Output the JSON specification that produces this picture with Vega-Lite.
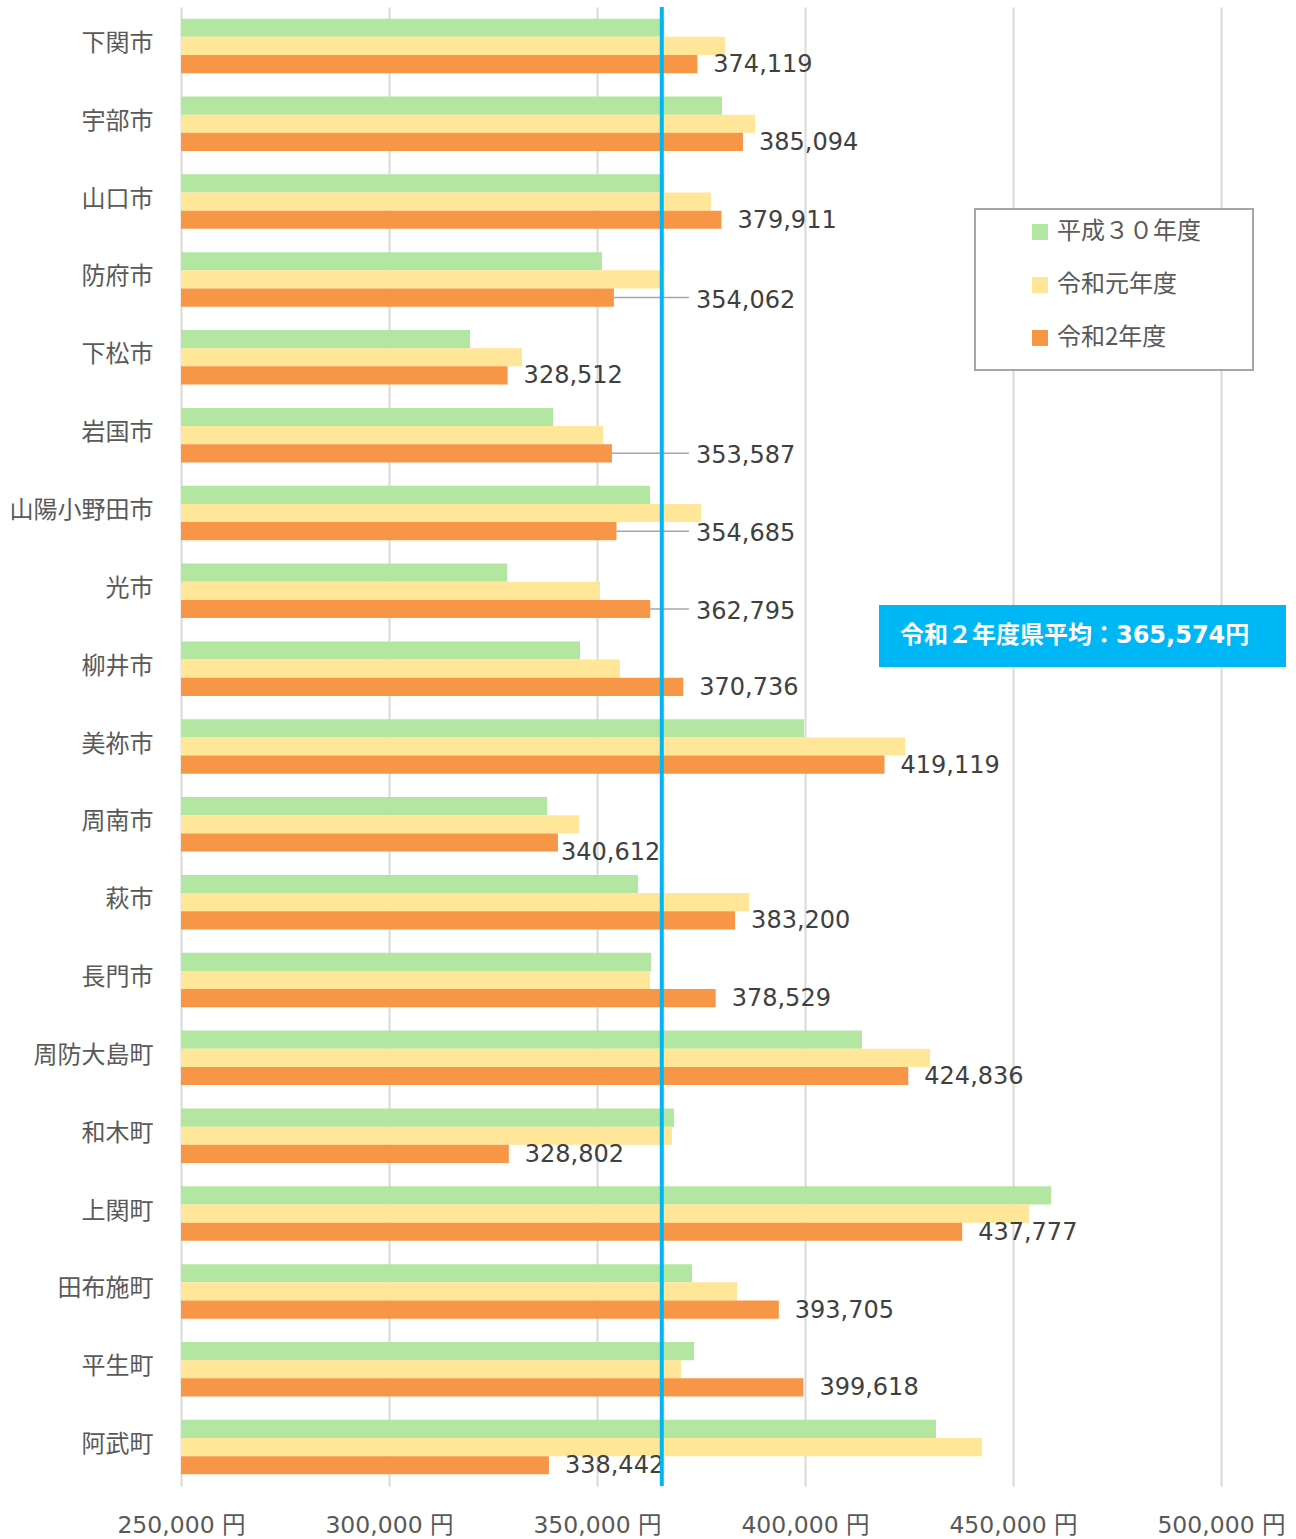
{
  "$schema": "https://vega.github.io/schema/vega-lite/v6.json",
  "width": 1040,
  "height": 1479,
  "padding": {"left": 9, "top": 5, "right": 5, "bottom": 4},
  "background": "white",
  "config": {
    "view": {"stroke": null},
    "font": "DejaVu Sans, Noto Sans CJK JP",
    "text": {"font": "DejaVu Sans, Noto Sans CJK JP"}
  },
  "datasets": {
    "costs": [
      {"city": "下関市", "year": "平成３０年度", "value": 366100},
      {"city": "下関市", "year": "令和元年度", "value": 380770},
      {"city": "下関市", "year": "令和2年度", "value": 374119},
      {"city": "宇部市", "year": "平成３０年度", "value": 380050},
      {"city": "宇部市", "year": "令和元年度", "value": 387980},
      {"city": "宇部市", "year": "令和2年度", "value": 385094},
      {"city": "山口市", "year": "平成３０年度", "value": 366100},
      {"city": "山口市", "year": "令和元年度", "value": 377400},
      {"city": "山口市", "year": "令和2年度", "value": 379911},
      {"city": "防府市", "year": "平成３０年度", "value": 351200},
      {"city": "防府市", "year": "令和元年度", "value": 365620},
      {"city": "防府市", "year": "令和2年度", "value": 354062},
      {"city": "下松市", "year": "平成３０年度", "value": 319470},
      {"city": "下松市", "year": "令和元年度", "value": 331970},
      {"city": "下松市", "year": "令和2年度", "value": 328512},
      {"city": "岩国市", "year": "平成３０年度", "value": 339420},
      {"city": "岩国市", "year": "令和元年度", "value": 351440},
      {"city": "岩国市", "year": "令和2年度", "value": 353587},
      {"city": "山陽小野田市", "year": "平成３０年度", "value": 362740},
      {"city": "山陽小野田市", "year": "令和元年度", "value": 375000},
      {"city": "山陽小野田市", "year": "令和2年度", "value": 354685},
      {"city": "光市", "year": "平成３０年度", "value": 328360},
      {"city": "光市", "year": "令和元年度", "value": 350720},
      {"city": "光市", "year": "令和2年度", "value": 362795},
      {"city": "柳井市", "year": "平成３０年度", "value": 345910},
      {"city": "柳井市", "year": "令和元年度", "value": 355530},
      {"city": "柳井市", "year": "令和2年度", "value": 370736},
      {"city": "美祢市", "year": "平成３０年度", "value": 399760},
      {"city": "美祢市", "year": "令和元年度", "value": 424040},
      {"city": "美祢市", "year": "令和2年度", "value": 419119},
      {"city": "周南市", "year": "平成３０年度", "value": 337980},
      {"city": "周南市", "year": "令和元年度", "value": 345670},
      {"city": "周南市", "year": "令和2年度", "value": 340612},
      {"city": "萩市", "year": "平成３０年度", "value": 359860},
      {"city": "萩市", "year": "令和元年度", "value": 386540},
      {"city": "萩市", "year": "令和2年度", "value": 383200},
      {"city": "長門市", "year": "平成３０年度", "value": 362980},
      {"city": "長門市", "year": "令和元年度", "value": 362740},
      {"city": "長門市", "year": "令和2年度", "value": 378529},
      {"city": "周防大島町", "year": "平成３０年度", "value": 413700},
      {"city": "周防大島町", "year": "令和元年度", "value": 430050},
      {"city": "周防大島町", "year": "令和2年度", "value": 424836},
      {"city": "和木町", "year": "平成３０年度", "value": 368510},
      {"city": "和木町", "year": "令和元年度", "value": 368030},
      {"city": "和木町", "year": "令和2年度", "value": 328802},
      {"city": "上関町", "year": "平成３０年度", "value": 459140},
      {"city": "上関町", "year": "令和元年度", "value": 453850},
      {"city": "上関町", "year": "令和2年度", "value": 437777},
      {"city": "田布施町", "year": "平成３０年度", "value": 372840},
      {"city": "田布施町", "year": "令和元年度", "value": 383650},
      {"city": "田布施町", "year": "令和2年度", "value": 393705},
      {"city": "平生町", "year": "平成３０年度", "value": 373320},
      {"city": "平生町", "year": "令和元年度", "value": 370190},
      {"city": "平生町", "year": "令和2年度", "value": 399618},
      {"city": "阿武町", "year": "平成３０年度", "value": 431490},
      {"city": "阿武町", "year": "令和元年度", "value": 442550},
      {"city": "阿武町", "year": "令和2年度", "value": 338442}
    ]
  },
  "resolve": {"scale": {"y": "independent"}},
  "layer": [
    {
      "data": {"name": "costs"},
      "encoding": {
        "y": {
          "field": "city",
          "type": "nominal",
          "sort": ["下関市", "宇部市", "山口市", "防府市", "下松市", "岩国市", "山陽小野田市", "光市", "柳井市", "美祢市", "周南市", "萩市", "長門市", "周防大島町", "和木町", "上関町", "田布施町", "平生町", "阿武町"],
          "scale": {"paddingInner": 0.3, "paddingOuter": 0.15},
          "axis": {
            "title": null,
            "labelFont": "Noto Sans CJK JP",
            "labelFontSize": 24,
            "labelColor": "#595959",
            "labelPadding": 28,
            "labelOffset": -2,
            "ticks": false,
            "domain": false,
            "grid": false
          }
        },
        "yOffset": {
          "field": "year",
          "type": "nominal",
          "sort": ["平成３０年度", "令和元年度", "令和2年度"],
          "scale": {"paddingInner": 0, "paddingOuter": 0}
        }
      },
      "layer": [
        {
          "mark": {"type": "bar"},
          "encoding": {
            "x": {
              "field": "value",
              "type": "quantitative",
              "stack": null,
              "scale": {"domain": [250000, 500000], "nice": false, "zero": false},
              "axis": {
                "title": null,
                "values": [250000, 300000, 350000, 400000, 450000, 500000],
                "labelExpr": "format(datum.value, ',') + ' 円'",
                "labelFontSize": 23.5,
                "labelColor": "#595959",
                "labelPadding": 27,
                "labelOverlap": false,
                "labelFlush": false,
                "labelBound": false,
                "grid": true,
                "gridColor": "#d9d9d9",
                "gridWidth": 2,
                "domain": false,
                "ticks": false
              }
            },
            "color": {
              "field": "year",
              "type": "nominal",
              "sort": ["平成３０年度", "令和元年度", "令和2年度"],
              "scale": {"domain": ["平成３０年度", "令和元年度", "令和2年度"], "range": ["#B3E6A0", "#FFE699", "#F79646"]},
              "legend": {
                "title": null,
                "orient": "none",
                "legendX": 847,
                "legendY": 213,
                "symbolType": "square",
                "symbolSize": 256,
                "symbolStrokeWidth": 0,
                "labelFont": "Noto Sans CJK JP",
                "labelFontSize": 24,
                "labelColor": "#595959",
                "labelOffset": 5,
                "rowPadding": 29,
                "padding": 0
              }
            }
          }
        },
        {
          "transform": [
            {"filter": "datum.year === '令和2年度' && indexof(['防府市','岩国市','山陽小野田市','光市','周南市'], datum.city) < 0"}
          ],
          "mark": {"type": "text", "align": "left", "baseline": "middle", "dx": 16, "dy": 1, "fontSize": 24, "color": "#404040"},
          "encoding": {
            "x": {"field": "value", "type": "quantitative", "stack": null, "scale": {"domain": [250000, 500000], "nice": false, "zero": false}},
            "text": {"field": "value", "type": "quantitative", "format": ","}
          }
        },
        {
          "transform": [
            {"filter": "datum.year === '令和2年度' && datum.city === '周南市'"}
          ],
          "mark": {"type": "text", "align": "left", "baseline": "middle", "dx": 3, "dy": 10, "fontSize": 24, "color": "#404040"},
          "encoding": {
            "x": {"field": "value", "type": "quantitative", "stack": null, "scale": {"domain": [250000, 500000], "nice": false, "zero": false}},
            "text": {"field": "value", "type": "quantitative", "format": ","}
          }
        },
        {
          "transform": [
            {"filter": "datum.year === '令和2年度' && indexof(['防府市','岩国市','山陽小野田市','光市'], datum.city) >= 0"}
          ],
          "mark": {"type": "rule", "color": "#a6a6a6", "strokeWidth": 1.5},
          "encoding": {
            "x": {"field": "value", "type": "quantitative", "stack": null, "scale": {"domain": [250000, 500000], "nice": false, "zero": false}},
            "x2": {"datum": 372100}
          }
        },
        {
          "transform": [
            {"filter": "datum.year === '令和2年度' && indexof(['防府市','岩国市','山陽小野田市','光市'], datum.city) >= 0"}
          ],
          "mark": {"type": "text", "align": "left", "baseline": "middle", "dy": 3, "fontSize": 24, "color": "#404040"},
          "encoding": {
            "x": {"datum": 373800, "type": "quantitative", "scale": {"domain": [250000, 500000], "nice": false, "zero": false}},
            "text": {"field": "value", "type": "quantitative", "format": ","}
          }
        }
      ]
    },
    {
      "data": {"values": [{"note": "令和２年度県平均：365,574円"}]},
      "layer": [
        {
          "mark": {"type": "rule", "color": "#00B7F5", "strokeWidth": 4},
          "encoding": {
            "x": {"datum": 365574, "type": "quantitative", "scale": {"domain": [250000, 500000], "nice": false, "zero": false}}
          }
        },
        {
          "mark": {"type": "rect", "fill": "#ffffff", "stroke": "#a6a6a6", "strokeWidth": 2},
          "encoding": {
            "x": {"datum": 440860, "type": "quantitative", "scale": {"domain": [250000, 500000], "nice": false, "zero": false}},
            "x2": {"datum": 507690},
            "y": {"datum": 0.1365, "type": "quantitative", "scale": {"domain": [0, 1], "reverse": true, "nice": false, "zero": false}, "axis": null},
            "y2": {"datum": 0.2454}
          }
        },
        {
          "mark": {"type": "rect", "fill": "#00B7F5"},
          "encoding": {
            "x": {"datum": 417790, "type": "quantitative", "scale": {"domain": [250000, 500000], "nice": false, "zero": false}},
            "x2": {"datum": 515620},
            "y": {"datum": 0.4043, "type": "quantitative", "scale": {"domain": [0, 1], "reverse": true, "nice": false, "zero": false}, "axis": null},
            "y2": {"datum": 0.4463}
          }
        },
        {
          "mark": {"type": "text", "align": "left", "baseline": "middle", "fontSize": 24, "fontWeight": "bold", "color": "#ffffff"},
          "encoding": {
            "x": {"datum": 422830, "type": "quantitative", "scale": {"domain": [250000, 500000], "nice": false, "zero": false}},
            "y": {"datum": 0.4253, "type": "quantitative", "scale": {"domain": [0, 1], "reverse": true, "nice": false, "zero": false}, "axis": null},
            "text": {"field": "note"}
          }
        }
      ]
    }
  ]
}
